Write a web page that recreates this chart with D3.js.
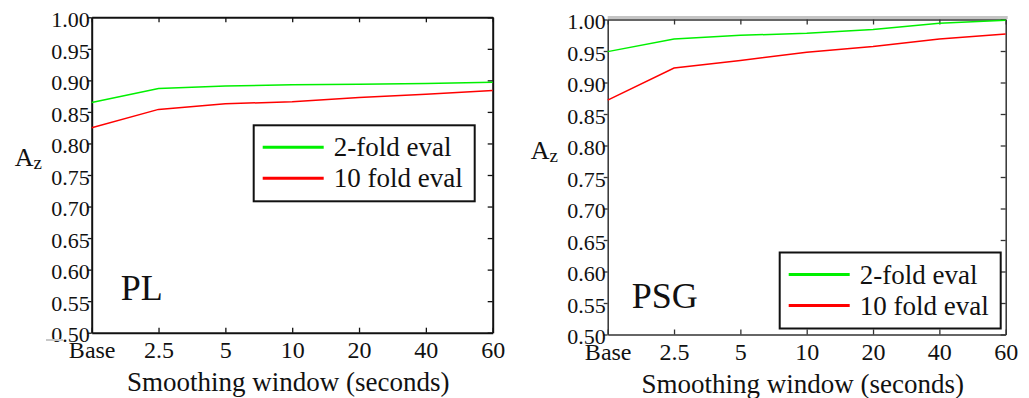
<!DOCTYPE html>
<html>
<head>
<meta charset="utf-8">
<script src="https://cdn.jsdelivr.net/npm/d3@7"></script>
</head>
<body style="margin:0">
<div id="chart"></div>
<script>
// smoothing windows (categories on the x axis)
const windows = ["Base", "2.5", "5", "10", "20", "40", "60"];
const yTicks = [0.50, 0.55, 0.60, 0.65, 0.70, 0.75, 0.80, 0.85, 0.90, 0.95, 1.00];
const seriesNames = ["2-fold eval", "10 fold eval"];
const seriesColors = ["#00f000", "#ff0000"];

// PL panel
const plTwoFold = [0.865, 0.887, 0.891, 0.893, 0.894, 0.895, 0.897];
const plTenFold = [0.825, 0.854, 0.863, 0.866, 0.873, 0.878, 0.884];

// PSG panel
const psgTwoFold = [0.949, 0.969, 0.975, 0.978, 0.984, 0.994, 0.999];
const psgTenFold = [0.872, 0.923, 0.935, 0.948, 0.957, 0.969, 0.977];

const FONT = '"Liberation Serif"';

const svg = d3.select("#chart").append("svg")
    .attr("width", 1029)
    .attr("height", 398)
    .style("font-family", FONT);

function drawPanel(p) {
    const w = p.right - p.left,
        h = p.bottom - p.top;

    const g = svg.append("g")
        .attr("transform", `translate(${p.left}, ${p.top})`);

    const x = d3.scalePoint().domain(windows).range([0, w]);
    const y = d3.scaleLinear().domain([0.5, 1]).range([h, 0]);

    // odd grey band above the second box
    if (p.topBand) {
        g.append("line")
            .attr("x1", 0).attr("x2", w + 2)
            .attr("y1", -2).attr("y2", -2)
            .attr("stroke", "#c4c4c4")
            .attr("stroke-width", 3);
    }

    const left = g.append("g")
        .call(d3.axisLeft(y).tickValues(yTicks).tickFormat(d3.format(".2f"))
            .tickSizeInner(4).tickSizeOuter(0).tickPadding(-2))
        .attr("font-family", null);
    left.selectAll("text")
        .style("font-family", FONT)
        .attr("font-size", "22px")
        .attr("dy", "0.42em");

    const bottom = g.append("g")
        .attr("transform", `translate(0, ${h})`)
        .call(d3.axisBottom(x).tickSizeInner(-5).tickSizeOuter(0).tickPadding(8.5))
        .attr("font-family", null);
    bottom.selectAll("text")
        .style("font-family", FONT)
        .attr("font-size", "24px");

    g.append("g")
        .call(d3.axisTop(x).tickSizeInner(-5).tickSizeOuter(0).tickFormat(""));
    g.append("g")
        .attr("transform", `translate(${w}, 0)`)
        .call(d3.axisRight(y).tickValues(yTicks).tickSizeInner(-5).tickSizeOuter(0).tickFormat(""));

    g.selectAll(".domain").attr("stroke", p.axisColor).attr("stroke-width", p.axisWidth);
    g.selectAll(".tick line").attr("stroke", p.axisColor).attr("stroke-width", 1.3);
    g.selectAll(".tick text").attr("fill", "#111");

    const line = d3.line()
        .x((d, i) => x(windows[i]))
        .y(d => y(d));

    p.series.forEach(function(vals, i) {
        g.append("path")
            .datum(vals)
            .attr("fill", "none")
            .attr("stroke", seriesColors[i])
            .attr("stroke-width", 1.5)
            .attr("d", line);
    });

    // y label A with subscript z
    const az = svg.append("text")
        .attr("x", p.left - 77)
        .attr("y", p.top + p.azY)
        .style("font-family", FONT)
        .attr("font-size", "26px")
        .attr("fill", "#111");
    az.append("tspan").text("A");
    az.append("tspan").attr("font-size", "19px").attr("dy", "3").text("z");

    g.append("text")
        .attr("x", w / 2 - 4)
        .attr("y", h + 58)
        .attr("text-anchor", "middle")
        .style("font-family", FONT)
        .attr("font-size", "27px")
        .attr("fill", "#111")
        .text("Smoothing window (seconds)");

    g.append("text")
        .attr("x", p.titleX)
        .attr("y", p.titleY)
        .style("font-family", FONT)
        .attr("font-size", "36px")
        .attr("fill", "#111")
        .text(p.title);

    // legend
    const lg = g.append("g")
        .attr("transform", `translate(${p.legX}, ${p.legY})`);
    lg.append("rect")
        .attr("width", 221)
        .attr("height", 76)
        .attr("fill", "#fff")
        .attr("stroke", "#111")
        .attr("stroke-width", 2);
    seriesNames.forEach(function(name, i) {
        const yy = 22 + i * 31;
        lg.append("line")
            .attr("x1", 9).attr("x2", 70)
            .attr("y1", yy).attr("y2", yy)
            .attr("stroke", seriesColors[i])
            .attr("stroke-width", 3);
        lg.append("text")
            .attr("x", 80)
            .attr("y", yy + 9)
            .style("font-family", FONT)
            .attr("font-size", "27px")
            .attr("fill", "#111")
            .text(name);
    });
}

drawPanel({
    left: 91.7, right: 492.7, top: 17.3, bottom: 332.7,
    series: [plTwoFold, plTenFold],
    title: "PL", titleX: 29, titleY: 283,
    legX: 162, legY: 108,
    azY: 149,
    axisColor: "#111", axisWidth: 2,
    topBand: false
});

drawPanel({
    left: 607.7, right: 1005.7, top: 19.5, bottom: 334.5,
    series: [psgTwoFold, psgTenFold],
    title: "PSG", titleX: 24, titleY: 288,
    legX: 172, legY: 233,
    azY: 139,
    axisColor: "#333", axisWidth: 1.5,
    topBand: true
});

// small grey mark left of the first panel's corner
svg.append("line")
    .attr("x1", 46).attr("x2", 63)
    .attr("y1", 340).attr("y2", 340)
    .attr("stroke", "#c8c8c8")
    .attr("stroke-width", 2);
</script>
</body>
</html>
